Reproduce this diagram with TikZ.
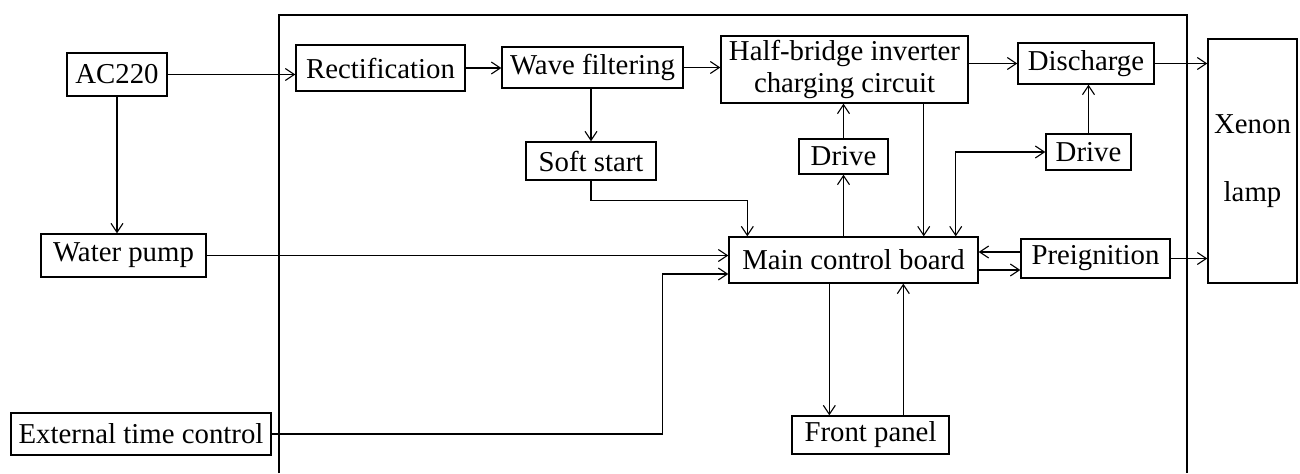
\documentclass[tikz,border=0pt]{standalone}
\usepackage{fontspec}
\setmainfont{Liberation Serif}
\usetikzlibrary{arrows.meta,calc}
\begin{document}
\begin{tikzpicture}[x=0.5pt,y=-0.5pt,
  font=\fontsize{14.4}{17}\selectfont,
  blk/.style={draw,line width=0.7pt,inner sep=0pt,align=center},
  tip/.tip={Straight Barb[length=4.5pt,width=6pt,line width=0.55pt]},
  arr/.style={line width=0.7pt,-tip},
  arrb/.style={line width=0.7pt,tip-tip},
  ln/.style={line width=0.7pt}]
\useasboundingbox (0,0) rectangle (1300,473);
% frame
\coordinate (fbl) at (279,473);
\coordinate (ftl) at (279,15);
\coordinate (ftr) at (1187,15);
\coordinate (fbr) at (1187,473);
\draw[ln] (fbl) -- (ftl) -- (ftr) -- (fbr);
% nodes
\node[blk,minimum width=50pt,minimum height=21.5pt] (ac) at (117,74.5) {AC220};
\node[blk,minimum width=84.5pt,minimum height=23pt] (rect) at (380.5,68) {Rectification};
\node[blk,minimum width=90.5pt,minimum height=20.5pt] (wave) at (592.5,67.5) {Wave filtering};
\node[blk,minimum width=123.5pt,minimum height=33.5pt,font=\fontsize{14.4}{16}\selectfont] (half) at (844.5,69.5) {Half-bridge inverter\\charging circuit};
\node[blk,minimum width=68pt,minimum height=20.5pt] (dis) at (1086,63.5) {Discharge};
\node[blk,minimum width=42.5pt,minimum height=18pt] (drive2) at (1088.5,152) {Drive};
\node[blk,minimum width=44.5pt,minimum height=122pt] (xenon) at (1252.5,161) {Xenon\\[17pt]lamp};
\node[blk,minimum width=74.5pt,minimum height=19.5pt] (pre) at (1095.5,258.5) {Preignition};
\node[blk,minimum width=124.5pt,minimum height=23pt] (main) at (853.5,260) {Main control board};
\node[blk,minimum width=44.5pt,minimum height=17.5pt] (drive1) at (843.5,156.5) {Drive};
\node[blk,minimum width=65pt,minimum height=19pt] (soft) at (591,161) {Soft start};
\node[blk,minimum width=82.5pt,minimum height=21.5pt] (water) at (123.5,255.5) {Water pump};
\node[blk,minimum width=130pt,minimum height=21pt] (ext) at (141,434) {External time control};
\node[blk,minimum width=78.5pt,minimum height=19pt] (front) at (870.5,435) {Front panel};
% connectors
\draw[arr] (ac.east) -- (ac.east -| rect.west);
\draw[arr] (ac.south) -- (ac.south |- water.north);
\draw[arr] (rect.east) -- (rect.east -| wave.west);
\draw[arr] (wave.east) -- (wave.east -| half.west);
\draw[arr] (dis.west -| half.east) -- (dis.west);
\draw[arr] (dis.east) -- (dis.east -| xenon.west);
\draw[arr] (soft.north |- wave.south) -- (soft.north);
\draw[arr] (soft.south) -- ($(soft.south)+(0,20)$) -| ($(main.north west)+(19,0)$);
\draw[arr] (water.east) -- (water.east -| main.west);
\draw[arr] (ext.east) -- ($(ext.east)+(391,0)$) |- ($(main.west)+(0,14)$);
\draw[arr] (drive1.south |- main.north) -- (drive1.south);
\draw[arr] (drive1.north) -- (drive1.north |- half.south);
\draw[arr] ($(half.south east)+(-45,0)$) -- ($(main.north east)+(-55,0)$);
\draw[arrb] ($(main.north east)+(-23,0)$) |- (drive2.west);
\draw[arr] (drive2.north) -- (drive2.north |- dis.south);
\draw[arr] ($(pre.west)+(0,-6.5)$) -- ($(main.east)+(0,-8)$);
\draw[arr] ($(main.east)+(0,10)$) -- ($(pre.west)+(0,11.5)$);
\draw[arr] (pre.east) -- (pre.east -| xenon.west);
\draw[arr] ($(main.south west)+(101,0)$) -- ($(front.north west)+(38,0)$);
\draw[arr] ($(front.north west)+(112,0)$) -- ($(main.south west)+(175,0)$);
\end{tikzpicture}
\end{document}
